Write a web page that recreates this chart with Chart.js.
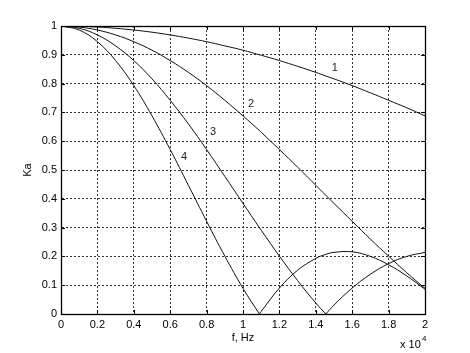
<!DOCTYPE html>
<html>
<head>
<meta charset="utf-8">
<script src="https://cdn.jsdelivr.net/npm/chart.js@4.4.1/dist/chart.umd.min.js"></script>
<style>
  html, body { margin: 0; padding: 0; background: #fff; }
</style>
</head>
<body>
<canvas id="chart" width="470" height="353"></canvas>
<script>
// frequency, in units of 10^4 Hz
const freq = [0, 0.1, 0.2, 0.3, 0.4, 0.5, 0.6, 0.7, 0.8, 0.9, 1.0, 1.09, 1.1,
              1.2, 1.3, 1.4, 1.455, 1.5, 1.6, 1.7, 1.8, 1.9, 2.0];

const ka1 = [1, 0.999, 0.9965, 0.992, 0.986, 0.9785, 0.969, 0.958, 0.9455, 0.931, 0.916, 0.900, 0.8985,
             0.880, 0.860, 0.839, 0.8265, 0.8165, 0.793, 0.768, 0.742, 0.716, 0.688];
const ka2 = [1, 0.9965, 0.986, 0.969, 0.9455, 0.916, 0.880, 0.839, 0.793, 0.742, 0.688, 0.637, 0.631,
             0.571, 0.510, 0.447, 0.412, 0.384, 0.322, 0.260, 0.201, 0.143, 0.089];
const ka3 = [1, 0.992, 0.969, 0.931, 0.880, 0.8165, 0.742, 0.660, 0.571, 0.478, 0.384, 0.300, 0.291,
             0.201, 0.116, 0.038, 0, 0.031, 0.090, 0.138, 0.175, 0.200, 0.214];
const ka4 = [1, 0.986, 0.9455, 0.880, 0.793, 0.688, 0.571, 0.447, 0.322, 0.201, 0.089, 0, 0.009,
             0.090, 0.152, 0.193, 0.207, 0.214, 0.216, 0.200, 0.171, 0.132, 0.086];

const curveNames = ["1", "2", "3", "4"];
// where the curve numbers sit, in data units
const nameX = [1.505, 1.044, 0.835, 0.676];
const nameY = [0.855, 0.729, 0.632, 0.545];

const xTicks = [0, 0.2, 0.4, 0.6, 0.8, 1, 1.2, 1.4, 1.6, 1.8, 2];
const xTickLabels = ["0", "0.2", "0.4", "0.6", "0.8", "1", "1.2", "1.4", "1.6", "1.8", "2"];
const yTicks = [0, 0.1, 0.2, 0.3, 0.4, 0.5, 0.6, 0.7, 0.8, 0.9, 1];
const yTickLabels = ["0", "0.1", "0.2", "0.3", "0.4", "0.5", "0.6", "0.7", "0.8", "0.9", "1"];

const FONT = "'Liberation Sans', Arial, sans-serif";

// zeros are doubled so the spline keeps a sharp notch there
function toPoints(values) {
    const pts = [];
    values.forEach((v, i) => {
        pts.push({ x: freq[i], y: v });
        if (v === 0) pts.push({ x: freq[i], y: v });
    });
    return pts;
}

const matlabBox = {
    id: "matlabBox",
    afterDatasetsDraw(chart) {
        const { ctx, chartArea: a, scales: { x, y } } = chart;
        ctx.save();
        ctx.strokeStyle = "#000";
        ctx.lineWidth = 1;
        // inward tick marks
        ctx.beginPath();
        xTicks.forEach(v => {
            const px = Math.round(x.getPixelForValue(v)) + 0.5;
            ctx.moveTo(px, a.bottom); ctx.lineTo(px, a.bottom - 4);
            ctx.moveTo(px, a.top); ctx.lineTo(px, a.top + 4);
        });
        yTicks.forEach(v => {
            const py = Math.round(y.getPixelForValue(v)) + 0.5;
            ctx.moveTo(a.left, py); ctx.lineTo(a.left + 4, py);
            ctx.moveTo(a.right, py); ctx.lineTo(a.right - 4, py);
        });
        ctx.stroke();
        ctx.lineWidth = 1.3;
        ctx.strokeRect(Math.round(a.left) + 0.5, Math.round(a.top) + 0.5,
                       Math.round(a.right - a.left), Math.round(a.bottom - a.top));

        // curve numbers
        ctx.fillStyle = "#222";
        ctx.font = "11px " + FONT;
        ctx.textAlign = "center";
        ctx.textBaseline = "middle";
        curveNames.forEach((n, i) => {
            ctx.fillText(n, x.getPixelForValue(nameX[i]), y.getPixelForValue(nameY[i]));
        });

        // exponent note under the x axis
        ctx.fillStyle = "#000";
        ctx.textAlign = "left";
        ctx.textBaseline = "alphabetic";
        ctx.font = "11px " + FONT;
        ctx.fillText("x 10", a.right - 25, a.bottom + 34);
        ctx.font = "8px " + FONT;
        ctx.fillText("4", a.right - 3, a.bottom + 27);
        ctx.restore();
    }
};

const lineStyle = {
    borderColor: "#111",
    borderWidth: 1,
    pointRadius: 0,
    fill: false,
    tension: 0.4
};

new Chart(document.getElementById("chart"), {
    type: "line",
    data: {
        datasets: [
            { label: "1", data: toPoints(ka1), ...lineStyle },
            { label: "2", data: toPoints(ka2), ...lineStyle },
            { label: "3", data: toPoints(ka3), ...lineStyle },
            { label: "4", data: toPoints(ka4), ...lineStyle }
        ]
    },
    options: {
        responsive: false,
        animation: false,
        layout: { padding: { left: 0, top: 26, right: 45, bottom: 0 } },
        plugins: {
            legend: { display: false },
            tooltip: { enabled: false }
        },
        scales: {
            x: {
                type: "linear",
                min: 0,
                max: 2,
                afterBuildTicks: s => { s.ticks = xTicks.map(v => ({ value: v })); },
                afterFit: s => { s.height = 39; },
                ticks: {
                    color: "#000",
                    padding: 4,
                    maxRotation: 0,
                    autoSkip: false,
                    font: { family: FONT, size: 11 },
                    callback: (v, i) => xTickLabels[i]
                },
                grid: { color: "#333", lineWidth: 1, drawTicks: false },
                border: { display: true, color: "#000", dash: [2, 2] },
                title: {
                    display: true,
                    text: "f, Hz",
                    color: "#000",
                    font: { family: FONT, size: 11 },
                    padding: { top: 0, bottom: 8 }
                }
            },
            y: {
                type: "linear",
                min: 0,
                max: 1,
                afterBuildTicks: s => { s.ticks = yTicks.map(v => ({ value: v })); },
                afterFit: s => { s.width = 61; },
                ticks: {
                    color: "#000",
                    padding: 4,
                    autoSkip: false,
                    font: { family: FONT, size: 11 },
                    callback: (v, i) => yTickLabels[i]
                },
                grid: { color: "#333", lineWidth: 1, drawTicks: false },
                border: { display: true, color: "#000", dash: [2, 2] },
                title: {
                    display: true,
                    text: "Ka",
                    color: "#000",
                    font: { family: FONT, size: 11 },
                    padding: { top: 21, bottom: 0 }
                }
            }
        }
    },
    plugins: [matlabBox]
});
</script>
</body>
</html>
